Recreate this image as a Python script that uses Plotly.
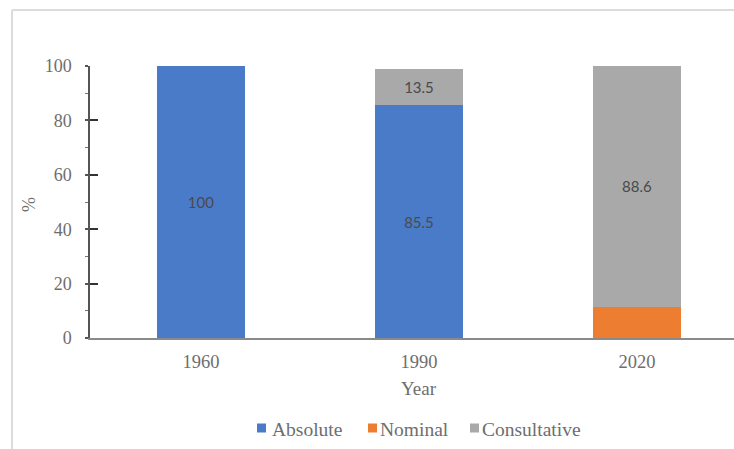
import plotly.graph_objects as go

# Share of each type (%) by year
years = ["1960", "1990", "2020"]
absolute = [100, 85.5, None]
nominal = [None, None, 11.4]
consultative = [None, 13.5, 88.6]

series_names = ["Absolute", "Nominal", "Consultative"]
series_colors = ["#4a7bc8", "#ed7d31", "#a9a9a9"]
labelled = [True, False, True]

W, H = 734, 449
ML, MR, MT, MB = 90, 0, 66, 111
plot_w = W - ML - MR
plot_h = H - MT - MB

SERIF = "Liberation Serif, Times New Roman, serif"
SANS = "Lato"
TICK_COLOR = "#6e6e6e"

# legend row: key square left edge and label left edge (pixels), row centre
legend_keys_x = [257, 368, 470]
legend_text_x = [270, 378, 480]
legend_y = 428
key_size = 9


def fmt(v):
    if v is None:
        return ""
    return f"{v:g}"


def px_to_paper_x(px):
    return (px - ML) / plot_w


def px_to_paper_y(py):
    return (H - MB - py) / plot_h


fig = go.Figure()
for name, vals, color, show in zip(series_names, [absolute, nominal, consultative],
                                   series_colors, labelled):
    fig.add_trace(go.Bar(
        name=name,
        x=years,
        y=vals,
        marker=dict(color=color, line=dict(width=0)),
        text=[fmt(v) for v in vals] if show else None,
        textposition="inside" if show else "none",
        insidetextanchor="middle",
        textangle=0,
        insidetextfont=dict(family=SANS, size=15, color="#4a4a4a"),
        cliponaxis=False,
        showlegend=False,
    ))

# invisible trace so the overlaid axis carrying the inner ticks is drawn
fig.add_trace(go.Scatter(x=[years[0]], y=[0], yaxis="y2", mode="markers",
                         marker=dict(opacity=0), showlegend=False, hoverinfo="skip"))

annotations = [
    dict(text="%", x=px_to_paper_x(29), y=px_to_paper_y(205), xref="paper", yref="paper",
         xanchor="center", yanchor="middle",
         showarrow=False, textangle=-90,
         font=dict(family=SERIF, size=18, color=TICK_COLOR)),
    dict(text="Year", x=px_to_paper_x(419), y=px_to_paper_y(388), xref="paper", yref="paper",
         xanchor="center", yanchor="middle",
         showarrow=False,
         font=dict(family=SERIF, size=19, color=TICK_COLOR)),
]

shapes = [
    # frame around the chart area
    dict(type="line", xref="paper", yref="paper",
         x0=px_to_paper_x(12), x1=px_to_paper_x(W),
         y0=px_to_paper_y(10), y1=px_to_paper_y(10),
         line=dict(color="#dcdcdc", width=2)),
    dict(type="line", xref="paper", yref="paper",
         x0=px_to_paper_x(12), x1=px_to_paper_x(12),
         y0=px_to_paper_y(10), y1=px_to_paper_y(H),
         line=dict(color="#dcdcdc", width=2)),
]

# legend: coloured key squares with series names
for name, color, kx, tx in zip(series_names, series_colors, legend_keys_x, legend_text_x):
    shapes.append(dict(
        type="rect", xref="paper", yref="paper",
        x0=px_to_paper_x(kx), x1=px_to_paper_x(kx + key_size),
        y0=px_to_paper_y(legend_y + key_size / 2), y1=px_to_paper_y(legend_y - key_size / 2),
        fillcolor=color, line=dict(width=0),
    ))
    annotations.append(dict(
        text=name, x=px_to_paper_x(tx), y=px_to_paper_y(legend_y + 1),
        xref="paper", yref="paper", xanchor="left", yanchor="middle",
        showarrow=False, font=dict(family=SERIF, size=19.5, color=TICK_COLOR),
    ))

fig.update_layout(
    width=W, height=H,
    margin=dict(l=ML, r=MR, t=MT, b=MB, pad=0),
    font=dict(family=SERIF, size=18, color=TICK_COLOR),
    paper_bgcolor="white",
    plot_bgcolor="white",
    barmode="stack",
    bargap=0.6,
    uniformtext=dict(mode=False),
    showlegend=False,
    xaxis=dict(
        type="category",
        range=[-0.509, 2.445],
        showline=True, linecolor="#8a8a8a", linewidth=2,
        ticks="", showgrid=False, zeroline=False,
        tickfont=dict(family=SERIF, size=18.5, color=TICK_COLOR),
        ticklabelstandoff=6,
    ),
    yaxis=dict(
        range=[0, 100],
        dtick=20,
        showline=True, linecolor="#555555", linewidth=1.5,
        ticks="outside", ticklen=3, tickwidth=1.5, tickcolor="#555555",
        minor=dict(dtick=10, ticks="outside", ticklen=3, tickwidth=1, tickcolor="#777777"),
        showgrid=False, zeroline=False,
        tickfont=dict(family=SERIF, size=18, color=TICK_COLOR),
        ticklabelstandoff=10,
    ),
    yaxis2=dict(
        range=[0, 100], overlaying="y", side="left",
        dtick=20, ticks="inside", ticklen=8, tickwidth=1.5, tickcolor="#333333",
        showticklabels=False, showgrid=False, zeroline=False, showline=False,
    ),
    annotations=annotations,
    shapes=shapes,
)

fig.write_html("out.html")
